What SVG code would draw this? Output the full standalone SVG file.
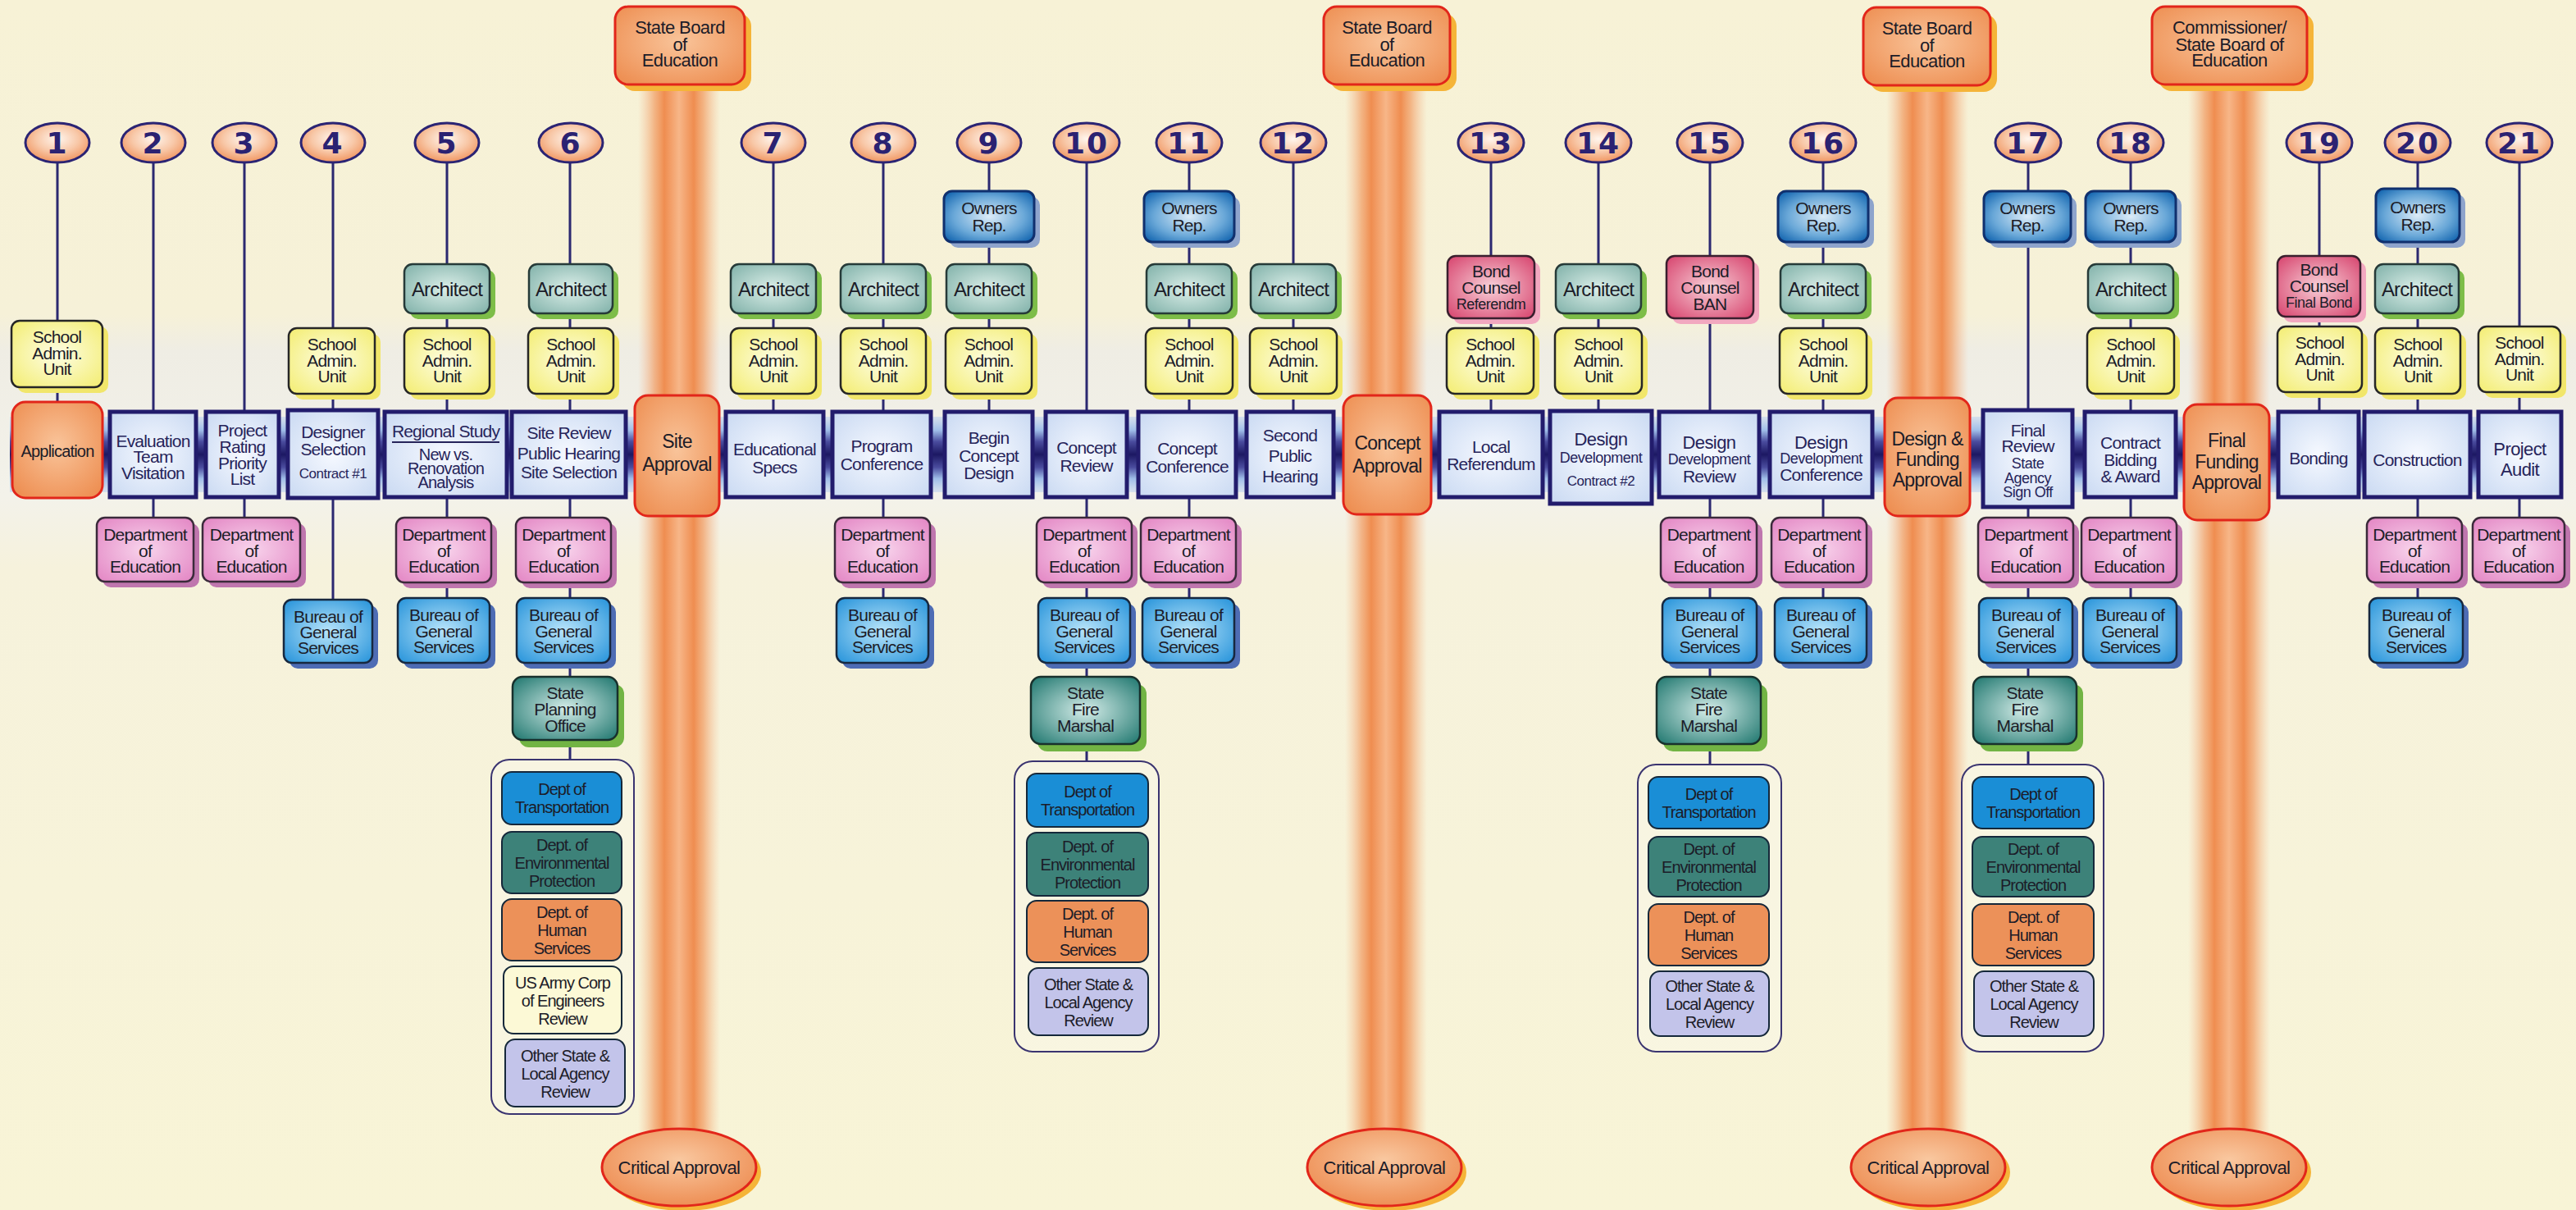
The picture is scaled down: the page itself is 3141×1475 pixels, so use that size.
<svg xmlns="http://www.w3.org/2000/svg" width="3141" height="1475" viewBox="0 0 3141 1475">
<defs>
<linearGradient id="gBg" x1="0" y1="0" x2="0" y2="1">
<stop offset="0" stop-color="#f7f2d6"/><stop offset="0.26" stop-color="#f6f1d8"/><stop offset="0.29" stop-color="#efede4"/><stop offset="0.41" stop-color="#f3f2ea"/><stop offset="0.47" stop-color="#f6f2dc"/><stop offset="1" stop-color="#f8f4d6"/>
</linearGradient>
<linearGradient id="gBand" x1="0" y1="0" x2="0" y2="1">
<stop offset="0" stop-color="#b9cff0" stop-opacity="0.5"/><stop offset="0.18" stop-color="#9fbde8"/><stop offset="0.33" stop-color="#4a4c9e"/><stop offset="0.5" stop-color="#1c1862"/><stop offset="0.67" stop-color="#4a4c9e"/><stop offset="0.82" stop-color="#9fbde8"/><stop offset="1" stop-color="#b9cff0" stop-opacity="0.5"/>
</linearGradient>
<linearGradient id="gBar" x1="0" y1="0" x2="1" y2="0">
<stop offset="0" stop-color="#f4b48a" stop-opacity="0"/><stop offset="0.2" stop-color="#f19a60" stop-opacity="0.7"/><stop offset="0.32" stop-color="#ef8d50"/><stop offset="0.5" stop-color="#f7b688"/><stop offset="0.68" stop-color="#ef8d50"/><stop offset="0.8" stop-color="#f19a60" stop-opacity="0.7"/><stop offset="1" stop-color="#f4b48a" stop-opacity="0"/>
</linearGradient>
<radialGradient id="gCirc" cx="50%" cy="40%" r="60%"><stop offset="0" stop-color="#fff6ee"/><stop offset="0.55" stop-color="#f8c8a8"/><stop offset="1" stop-color="#f09560"/></radialGradient>
<radialGradient id="gYel" cx="50%" cy="50%" r="65%"><stop offset="0" stop-color="#fdfde4"/><stop offset="1" stop-color="#f4ee78"/></radialGradient>
<radialGradient id="gArc" cx="50%" cy="50%" r="65%"><stop offset="0" stop-color="#dcefe9"/><stop offset="1" stop-color="#86b5ad"/></radialGradient>
<radialGradient id="gOwn" cx="50%" cy="50%" r="65%"><stop offset="0" stop-color="#dcecf8"/><stop offset="0.6" stop-color="#6aa8d8"/><stop offset="1" stop-color="#1466b0"/></radialGradient>
<radialGradient id="gBnd" cx="50%" cy="50%" r="65%"><stop offset="0" stop-color="#f8d0d8"/><stop offset="1" stop-color="#d94c74"/></radialGradient>
<radialGradient id="gMain" cx="50%" cy="50%" r="70%"><stop offset="0" stop-color="#f6f9ff"/><stop offset="1" stop-color="#c9d9f2"/></radialGradient>
<radialGradient id="gApr" cx="50%" cy="45%" r="65%"><stop offset="0" stop-color="#f9c49a"/><stop offset="1" stop-color="#ee9054"/></radialGradient>
<radialGradient id="gPnk" cx="50%" cy="50%" r="65%"><stop offset="0" stop-color="#f8d4ec"/><stop offset="1" stop-color="#e48ac6"/></radialGradient>
<radialGradient id="gBlu" cx="50%" cy="50%" r="65%"><stop offset="0" stop-color="#b8e4fa"/><stop offset="1" stop-color="#2f98dc"/></radialGradient>
<radialGradient id="gTea" cx="50%" cy="50%" r="65%"><stop offset="0" stop-color="#d4ece8"/><stop offset="1" stop-color="#2a7e76"/></radialGradient>
<radialGradient id="gCrit" cx="50%" cy="40%" r="60%"><stop offset="0" stop-color="#f9c8a0"/><stop offset="1" stop-color="#ee8f55"/></radialGradient>
<style>
.stem{stroke:#2b2870;stroke-width:3;fill:none}
.t{font-family:"Liberation Sans",Arial,Helvetica,sans-serif;font-size:21px;letter-spacing:-0.8px;fill:#1c1c28;text-anchor:middle}
.tm{fill:#26245a}
.f17{font-size:17px;letter-spacing:-0.5px}
.f18{font-size:18px;letter-spacing:-0.5px}
.f20{font-size:20px}
.f22{font-size:22px;letter-spacing:-0.6px}
.f23{font-size:23px;letter-spacing:-0.8px}
.f24{font-size:24px}
.ci{font-size:20px;letter-spacing:-1px}
.num{font-family:"DejaVu Sans","Liberation Sans",sans-serif;font-weight:bold;font-size:36px;letter-spacing:2px;fill:#2b2272;text-anchor:middle}
.circ{fill:url(#gCirc);stroke:#2b2474;stroke-width:3}
.sau{fill:url(#gYel);stroke:#262626;stroke-width:2.5}
.sauS{fill:#f1e66a}
.arc{fill:url(#gArc);stroke:#263a38;stroke-width:2.5}
.arcS{fill:#7dbd48}
.own{fill:url(#gOwn);stroke:#10306e;stroke-width:3}
.ownS{fill:#8ea4cc}
.bnd{fill:url(#gBnd);stroke:#3a1f2e;stroke-width:2.5}
.bndS{fill:#f2a8c0}
.main{fill:url(#gMain);stroke:#221c6c;stroke-width:5}
.apr{fill:url(#gApr);stroke:#e2261a;stroke-width:3}
.aprS{fill:#f5b438}
.ded{fill:url(#gPnk);stroke:#3a2a3a;stroke-width:2.5}
.dedS{fill:#bf76ae}
.bur{fill:url(#gBlu);stroke:#17283f;stroke-width:2.5}
.burS{fill:#4e6cb4}
.fm{fill:url(#gTea);stroke:#18302c;stroke-width:2.5}
.fmS{fill:#72b444}
.cont{fill:#faf8ea;fill-opacity:0.5;stroke:#3a3470;stroke-width:2}
.dot{fill:#1a8ed6;stroke:#15283a;stroke-width:2}
.env{fill:#3d8279;stroke:#15283a;stroke-width:2}
.dhs{fill:#ec9159;stroke:#15283a;stroke-width:2}
.usa{fill:#fcf9d6;stroke:#15283a;stroke-width:2}
.oth{fill:#c3c4ea;stroke:#15283a;stroke-width:2}
.crit{fill:url(#gCrit);stroke:#e2261a;stroke-width:3}
.ul{stroke:#26245a;stroke-width:2}
</style>
</defs>

<rect x="0" y="0" width="3141" height="1475" fill="url(#gBg)"/>

<g id="approval-bars">
<rect x="778" y="98" width="100" height="1290" fill="url(#gBar)"/>
<rect x="1640" y="98" width="100" height="1290" fill="url(#gBar)"/>
<rect x="2300" y="98" width="100" height="1290" fill="url(#gBar)"/>
<rect x="2668" y="98" width="100" height="1290" fill="url(#gBar)"/>
</g>

<rect id="timeline" x="12" y="508" width="3113" height="92" fill="url(#gBand)"/>

<g id="connectors">
<line class="stem" x1="70" y1="198" x2="70" y2="490"/>
<line class="stem" x1="187" y1="198" x2="187" y2="631"/>
<line class="stem" x1="298" y1="198" x2="298" y2="631"/>
<line class="stem" x1="406" y1="198" x2="406" y2="731"/>
<line class="stem" x1="545" y1="198" x2="545" y2="729"/>
<line class="stem" x1="695" y1="198" x2="695" y2="926"/>
<line class="stem" x1="943" y1="198" x2="943" y2="502"/>
<line class="stem" x1="1077" y1="198" x2="1077" y2="729"/>
<line class="stem" x1="1206" y1="198" x2="1206" y2="502"/>
<line class="stem" x1="1325" y1="198" x2="1325" y2="928"/>
<line class="stem" x1="1450" y1="198" x2="1450" y2="729"/>
<line class="stem" x1="1577" y1="198" x2="1577" y2="502"/>
<line class="stem" x1="1818" y1="198" x2="1818" y2="502"/>
<line class="stem" x1="1949" y1="198" x2="1949" y2="501"/>
<line class="stem" x1="2085" y1="198" x2="2085" y2="932"/>
<line class="stem" x1="2223" y1="198" x2="2223" y2="729"/>
<line class="stem" x1="2473" y1="198" x2="2473" y2="932"/>
<line class="stem" x1="2598" y1="198" x2="2598" y2="729"/>
<line class="stem" x1="2828" y1="198" x2="2828" y2="502"/>
<line class="stem" x1="2948" y1="198" x2="2948" y2="729"/>
<line class="stem" x1="3072" y1="198" x2="3072" y2="631"/>
</g>

<!-- top approval authorities -->
<g id="board1"><rect class="aprS" x="758" y="16" width="158" height="95" rx="16"/><rect class="apr" x="750" y="8" width="158" height="95" rx="16"/><text class="t f22"><tspan x="829" y="41">State Board</tspan><tspan x="829" y="62">of</tspan><tspan x="829" y="81">Education</tspan></text></g>
<g id="board2"><rect class="aprS" x="1622" y="16" width="154" height="95" rx="16"/><rect class="apr" x="1614" y="8" width="154" height="95" rx="16"/><text class="t f22"><tspan x="1691" y="41">State Board</tspan><tspan x="1691" y="62">of</tspan><tspan x="1691" y="81">Education</tspan></text></g>
<g id="board3"><rect class="aprS" x="2280" y="17" width="155" height="95" rx="16"/><rect class="apr" x="2272" y="9" width="155" height="95" rx="16"/><text class="t f22"><tspan x="2349.5" y="42">State Board</tspan><tspan x="2349.5" y="63">of</tspan><tspan x="2349.5" y="82">Education</tspan></text></g>
<g id="board4"><rect class="aprS" x="2632" y="16" width="189" height="95" rx="16"/><rect class="apr" x="2624" y="8" width="189" height="95" rx="16"/><text class="t f22"><tspan x="2718.5" y="41">Commissioner/</tspan><tspan x="2718.5" y="62">State Board of</tspan><tspan x="2718.5" y="81">Education</tspan></text></g>

<!-- critical approval ellipses -->
<g id="critical1"><ellipse cx="834" cy="1429" rx="94" ry="47" class="aprS"/><ellipse class="crit" cx="828" cy="1423" rx="94" ry="47"/><text class="t f22" x="828" y="1431">Critical Approval</text></g>
<g id="critical2"><ellipse cx="1694" cy="1429" rx="94" ry="47" class="aprS"/><ellipse class="crit" cx="1688" cy="1423" rx="94" ry="47"/><text class="t f22" x="1688" y="1431">Critical Approval</text></g>
<g id="critical3"><ellipse cx="2357" cy="1429" rx="94" ry="47" class="aprS"/><ellipse class="crit" cx="2351" cy="1423" rx="94" ry="47"/><text class="t f22" x="2351" y="1431">Critical Approval</text></g>
<g id="critical4"><ellipse cx="2724" cy="1429" rx="94" ry="47" class="aprS"/><ellipse class="crit" cx="2718" cy="1423" rx="94" ry="47"/><text class="t f22" x="2718" y="1431">Critical Approval</text></g>

<!-- step number circles -->
<g id="num1"><ellipse class="circ" cx="70" cy="174" rx="39" ry="24"/><text class="num" x="70" y="187">1</text></g>
<g id="num2"><ellipse class="circ" cx="187" cy="174" rx="39" ry="24"/><text class="num" x="187" y="187">2</text></g>
<g id="num3"><ellipse class="circ" cx="298" cy="174" rx="39" ry="24"/><text class="num" x="298" y="187">3</text></g>
<g id="num4"><ellipse class="circ" cx="406" cy="174" rx="39" ry="24"/><text class="num" x="406" y="187">4</text></g>
<g id="num5"><ellipse class="circ" cx="545" cy="174" rx="39" ry="24"/><text class="num" x="545" y="187">5</text></g>
<g id="num6"><ellipse class="circ" cx="696" cy="174" rx="39" ry="24"/><text class="num" x="696" y="187">6</text></g>
<g id="num7"><ellipse class="circ" cx="943" cy="174" rx="39" ry="24"/><text class="num" x="943" y="187">7</text></g>
<g id="num8"><ellipse class="circ" cx="1077" cy="174" rx="39" ry="24"/><text class="num" x="1077" y="187">8</text></g>
<g id="num9"><ellipse class="circ" cx="1206" cy="174" rx="39" ry="24"/><text class="num" x="1206" y="187">9</text></g>
<g id="num10"><ellipse class="circ" cx="1325" cy="174" rx="40" ry="24"/><text class="num" x="1325" y="187">10</text></g>
<g id="num11"><ellipse class="circ" cx="1450" cy="174" rx="40" ry="24"/><text class="num" x="1450" y="187">11</text></g>
<g id="num12"><ellipse class="circ" cx="1577" cy="174" rx="40" ry="24"/><text class="num" x="1577" y="187">12</text></g>
<g id="num13"><ellipse class="circ" cx="1818" cy="174" rx="40" ry="24"/><text class="num" x="1818" y="187">13</text></g>
<g id="num14"><ellipse class="circ" cx="1949" cy="174" rx="40" ry="24"/><text class="num" x="1949" y="187">14</text></g>
<g id="num15"><ellipse class="circ" cx="2085" cy="174" rx="40" ry="24"/><text class="num" x="2085" y="187">15</text></g>
<g id="num16"><ellipse class="circ" cx="2223" cy="174" rx="40" ry="24"/><text class="num" x="2223" y="187">16</text></g>
<g id="num17"><ellipse class="circ" cx="2473" cy="174" rx="40" ry="24"/><text class="num" x="2473" y="187">17</text></g>
<g id="num18"><ellipse class="circ" cx="2598" cy="174" rx="40" ry="24"/><text class="num" x="2598" y="187">18</text></g>
<g id="num19"><ellipse class="circ" cx="2828" cy="174" rx="40" ry="24"/><text class="num" x="2828" y="187">19</text></g>
<g id="num20"><ellipse class="circ" cx="2948" cy="174" rx="40" ry="24"/><text class="num" x="2948" y="187">20</text></g>
<g id="num21"><ellipse class="circ" cx="3072" cy="174" rx="40" ry="24"/><text class="num" x="3072" y="187">21</text></g>

<!-- Owners Rep -->
<g id="own9"><rect class="ownS" x="1158" y="240" width="110" height="62" rx="10"/><rect class="own" x="1151" y="233" width="110" height="62" rx="10"/><text class="t"><tspan x="1206" y="261">Owners</tspan><tspan x="1206" y="282">Rep.</tspan></text></g>
<g id="own11"><rect class="ownS" x="1402" y="240" width="110" height="62" rx="10"/><rect class="own" x="1395" y="233" width="110" height="62" rx="10"/><text class="t"><tspan x="1450" y="261">Owners</tspan><tspan x="1450" y="282">Rep.</tspan></text></g>
<g id="own16"><rect class="ownS" x="2175" y="240" width="110" height="62" rx="10"/><rect class="own" x="2168" y="233" width="110" height="62" rx="10"/><text class="t"><tspan x="2223" y="261">Owners</tspan><tspan x="2223" y="282">Rep.</tspan></text></g>
<g id="own17"><rect class="ownS" x="2426" y="240" width="106" height="62" rx="10"/><rect class="own" x="2419" y="233" width="106" height="62" rx="10"/><text class="t"><tspan x="2472" y="261">Owners</tspan><tspan x="2472" y="282">Rep.</tspan></text></g>
<g id="own18"><rect class="ownS" x="2550" y="240" width="110" height="62" rx="10"/><rect class="own" x="2543" y="233" width="110" height="62" rx="10"/><text class="t"><tspan x="2598" y="261">Owners</tspan><tspan x="2598" y="282">Rep.</tspan></text></g>
<g id="own20"><rect class="ownS" x="2904" y="237" width="102" height="65" rx="10"/><rect class="own" x="2897" y="230" width="102" height="65" rx="10"/><text class="t"><tspan x="2948" y="260">Owners</tspan><tspan x="2948" y="281">Rep.</tspan></text></g>

<!-- Architect -->
<g id="arc5"><rect class="arcS" x="500" y="329" width="104" height="60" rx="10"/><rect class="arc" x="493" y="322" width="104" height="60" rx="10"/><text class="t f24" x="545" y="361">Architect</text></g>
<g id="arc6"><rect class="arcS" x="652" y="329" width="102" height="60" rx="10"/><rect class="arc" x="645" y="322" width="102" height="60" rx="10"/><text class="t f24" x="696" y="361">Architect</text></g>
<g id="arc7"><rect class="arcS" x="898" y="329" width="104" height="60" rx="10"/><rect class="arc" x="891" y="322" width="104" height="60" rx="10"/><text class="t f24" x="943" y="361">Architect</text></g>
<g id="arc8"><rect class="arcS" x="1032" y="329" width="104" height="60" rx="10"/><rect class="arc" x="1025" y="322" width="104" height="60" rx="10"/><text class="t f24" x="1077" y="361">Architect</text></g>
<g id="arc9"><rect class="arcS" x="1161" y="329" width="104" height="60" rx="10"/><rect class="arc" x="1154" y="322" width="104" height="60" rx="10"/><text class="t f24" x="1206" y="361">Architect</text></g>
<g id="arc11"><rect class="arcS" x="1405" y="329" width="104" height="60" rx="10"/><rect class="arc" x="1398" y="322" width="104" height="60" rx="10"/><text class="t f24" x="1450" y="361">Architect</text></g>
<g id="arc12"><rect class="arcS" x="1532" y="329" width="104" height="60" rx="10"/><rect class="arc" x="1525" y="322" width="104" height="60" rx="10"/><text class="t f24" x="1577" y="361">Architect</text></g>
<g id="arc14"><rect class="arcS" x="1904" y="329" width="104" height="60" rx="10"/><rect class="arc" x="1897" y="322" width="104" height="60" rx="10"/><text class="t f24" x="1949" y="361">Architect</text></g>
<g id="arc16"><rect class="arcS" x="2178" y="329" width="104" height="60" rx="10"/><rect class="arc" x="2171" y="322" width="104" height="60" rx="10"/><text class="t f24" x="2223" y="361">Architect</text></g>
<g id="arc18"><rect class="arcS" x="2553" y="329" width="104" height="60" rx="10"/><rect class="arc" x="2546" y="322" width="104" height="60" rx="10"/><text class="t f24" x="2598" y="361">Architect</text></g>
<g id="arc20"><rect class="arcS" x="2903" y="329" width="102" height="60" rx="10"/><rect class="arc" x="2896" y="322" width="102" height="60" rx="10"/><text class="t f24" x="2947" y="361">Architect</text></g>

<!-- Bond Counsel -->
<g id="bond13"><rect class="bndS" x="1772" y="319" width="106" height="76" rx="10"/><rect class="bnd" x="1765" y="312" width="106" height="76" rx="10"/><text class="t"><tspan x="1818" y="338">Bond</tspan><tspan x="1818" y="358">Counsel</tspan><tspan class="f18" x="1818" y="377">Referendm</tspan></text></g>
<g id="bond15"><rect class="bndS" x="2039" y="319" width="106" height="76" rx="10"/><rect class="bnd" x="2032" y="312" width="106" height="76" rx="10"/><text class="t"><tspan x="2085" y="338">Bond</tspan><tspan x="2085" y="358">Counsel</tspan><tspan x="2085" y="378">BAN</tspan></text></g>
<g id="bond19"><rect class="bndS" x="2784" y="319" width="101" height="74" rx="10"/><rect class="bnd" x="2777" y="312" width="101" height="74" rx="10"/><text class="t"><tspan x="2827.5" y="336">Bond</tspan><tspan x="2827.5" y="356">Counsel</tspan><tspan class="f18" x="2827.5" y="375">Final Bond</tspan></text></g>

<!-- School Admin. Unit -->
<g id="sau1"><rect class="sauS" x="21" y="398" width="111" height="81" rx="10"/><rect class="sau" x="14" y="391" width="111" height="81" rx="10"/><text class="t"><tspan x="69.5" y="418">School</tspan><tspan x="69.5" y="438">Admin.</tspan><tspan x="69.5" y="457">Unit</tspan></text></g>
<g id="sau4"><rect class="sauS" x="359" y="407" width="105" height="80" rx="10"/><rect class="sau" x="352" y="400" width="105" height="80" rx="10"/><text class="t"><tspan x="404.5" y="427">School</tspan><tspan x="404.5" y="447">Admin.</tspan><tspan x="404.5" y="466">Unit</tspan></text></g>
<g id="sau5"><rect class="sauS" x="500" y="407" width="104" height="80" rx="10"/><rect class="sau" x="493" y="400" width="104" height="80" rx="10"/><text class="t"><tspan x="545" y="427">School</tspan><tspan x="545" y="447">Admin.</tspan><tspan x="545" y="466">Unit</tspan></text></g>
<g id="sau6"><rect class="sauS" x="651" y="407" width="104" height="80" rx="10"/><rect class="sau" x="644" y="400" width="104" height="80" rx="10"/><text class="t"><tspan x="696" y="427">School</tspan><tspan x="696" y="447">Admin.</tspan><tspan x="696" y="466">Unit</tspan></text></g>
<g id="sau7"><rect class="sauS" x="898" y="407" width="104" height="80" rx="10"/><rect class="sau" x="891" y="400" width="104" height="80" rx="10"/><text class="t"><tspan x="943" y="427">School</tspan><tspan x="943" y="447">Admin.</tspan><tspan x="943" y="466">Unit</tspan></text></g>
<g id="sau8"><rect class="sauS" x="1032" y="407" width="104" height="80" rx="10"/><rect class="sau" x="1025" y="400" width="104" height="80" rx="10"/><text class="t"><tspan x="1077" y="427">School</tspan><tspan x="1077" y="447">Admin.</tspan><tspan x="1077" y="466">Unit</tspan></text></g>
<g id="sau9"><rect class="sauS" x="1160" y="407" width="105" height="80" rx="10"/><rect class="sau" x="1153" y="400" width="105" height="80" rx="10"/><text class="t"><tspan x="1205.5" y="427">School</tspan><tspan x="1205.5" y="447">Admin.</tspan><tspan x="1205.5" y="466">Unit</tspan></text></g>
<g id="sau11"><rect class="sauS" x="1404" y="407" width="106" height="80" rx="10"/><rect class="sau" x="1397" y="400" width="106" height="80" rx="10"/><text class="t"><tspan x="1450" y="427">School</tspan><tspan x="1450" y="447">Admin.</tspan><tspan x="1450" y="466">Unit</tspan></text></g>
<g id="sau12"><rect class="sauS" x="1531" y="407" width="106" height="80" rx="10"/><rect class="sau" x="1524" y="400" width="106" height="80" rx="10"/><text class="t"><tspan x="1577" y="427">School</tspan><tspan x="1577" y="447">Admin.</tspan><tspan x="1577" y="466">Unit</tspan></text></g>
<g id="sau13"><rect class="sauS" x="1771" y="407" width="106" height="80" rx="10"/><rect class="sau" x="1764" y="400" width="106" height="80" rx="10"/><text class="t"><tspan x="1817" y="427">School</tspan><tspan x="1817" y="447">Admin.</tspan><tspan x="1817" y="466">Unit</tspan></text></g>
<g id="sau14"><rect class="sauS" x="1903" y="407" width="106" height="80" rx="10"/><rect class="sau" x="1896" y="400" width="106" height="80" rx="10"/><text class="t"><tspan x="1949" y="427">School</tspan><tspan x="1949" y="447">Admin.</tspan><tspan x="1949" y="466">Unit</tspan></text></g>
<g id="sau16"><rect class="sauS" x="2177" y="407" width="106" height="80" rx="10"/><rect class="sau" x="2170" y="400" width="106" height="80" rx="10"/><text class="t"><tspan x="2223" y="427">School</tspan><tspan x="2223" y="447">Admin.</tspan><tspan x="2223" y="466">Unit</tspan></text></g>
<g id="sau18"><rect class="sauS" x="2552" y="407" width="106" height="80" rx="10"/><rect class="sau" x="2545" y="400" width="106" height="80" rx="10"/><text class="t"><tspan x="2598" y="427">School</tspan><tspan x="2598" y="447">Admin.</tspan><tspan x="2598" y="466">Unit</tspan></text></g>
<g id="sau19"><rect class="sauS" x="2784" y="405" width="103" height="80" rx="10"/><rect class="sau" x="2777" y="398" width="103" height="80" rx="10"/><text class="t"><tspan x="2828.5" y="425">School</tspan><tspan x="2828.5" y="445">Admin.</tspan><tspan x="2828.5" y="464">Unit</tspan></text></g>
<g id="sau20"><rect class="sauS" x="2903" y="407" width="104" height="80" rx="10"/><rect class="sau" x="2896" y="400" width="104" height="80" rx="10"/><text class="t"><tspan x="2948" y="427">School</tspan><tspan x="2948" y="447">Admin.</tspan><tspan x="2948" y="466">Unit</tspan></text></g>
<g id="sau21"><rect class="sauS" x="3029" y="405" width="100" height="80" rx="10"/><rect class="sau" x="3022" y="398" width="100" height="80" rx="10"/><text class="t"><tspan x="3072" y="425">School</tspan><tspan x="3072" y="445">Admin.</tspan><tspan x="3072" y="464">Unit</tspan></text></g>

<!-- main timeline steps -->
<g id="step1"><rect class="apr" x="15" y="490" width="110" height="117" rx="16"/><text class="t f20" x="70" y="557">Application</text></g>
<g id="step2"><rect class="main" x="134" y="502" width="105" height="104"/><text class="t tm"><tspan x="186.5" y="545">Evaluation</tspan><tspan x="186.5" y="564">Team</tspan><tspan x="186.5" y="584">Visitation</tspan></text></g>
<g id="step3"><rect class="main" x="251" y="502" width="89" height="104"/><text class="t tm"><tspan x="295.5" y="532">Project</tspan><tspan x="295.5" y="552">Rating</tspan><tspan x="295.5" y="572">Priority</tspan><tspan x="295.5" y="591">List</tspan></text></g>
<g id="step4"><rect class="main" x="351" y="500" width="110" height="107"/><text class="t tm"><tspan x="406" y="534">Designer</tspan><tspan x="406" y="555">Selection</tspan><tspan class="f17" x="406" y="583">Contract #1</tspan></text></g>
<g id="step5"><rect class="main" x="469" y="502" width="149" height="104"/><text class="t tm"><tspan x="543.5" y="533">Regional Study</tspan><tspan class="f20" x="543.5" y="561">New vs.</tspan><tspan class="f20" x="543.5" y="578">Renovation</tspan><tspan class="f20" x="543.5" y="595">Analysis</tspan></text><line class="ul" x1="478" y1="539" x2="609" y2="539"/></g>
<g id="step6"><rect class="main" x="624" y="502" width="139" height="104"/><text class="t tm"><tspan x="693.5" y="535">Site Review</tspan><tspan x="693.5" y="560">Public Hearing</tspan><tspan x="693.5" y="583">Site Selection</tspan></text></g>
<g id="site-approval"><rect class="apr" x="774" y="482" width="103" height="147" rx="16"/><text class="t f23"><tspan x="825.5" y="546">Site</tspan><tspan x="825.5" y="574">Approval</tspan></text></g>
<g id="step7"><rect class="main" x="885" y="502" width="119" height="104"/><text class="t tm"><tspan x="944.5" y="555">Educational</tspan><tspan x="944.5" y="577">Specs</tspan></text></g>
<g id="step8"><rect class="main" x="1015" y="502" width="120" height="104"/><text class="t tm"><tspan x="1075" y="551">Program</tspan><tspan x="1075" y="573">Conference</tspan></text></g>
<g id="step9"><rect class="main" x="1152" y="502" width="107" height="104"/><text class="t tm"><tspan x="1205.5" y="541">Begin</tspan><tspan x="1205.5" y="563">Concept</tspan><tspan x="1205.5" y="584">Design</tspan></text></g>
<g id="step10"><rect class="main" x="1275" y="502" width="99" height="104"/><text class="t tm"><tspan x="1324.5" y="553">Concept</tspan><tspan x="1324.5" y="575">Review</tspan></text></g>
<g id="step11"><rect class="main" x="1388" y="502" width="119" height="104"/><text class="t tm"><tspan x="1447.5" y="554">Concept</tspan><tspan x="1447.5" y="576">Conference</tspan></text></g>
<g id="step12"><rect class="main" x="1520" y="502" width="106" height="104"/><text class="t tm"><tspan x="1573" y="538">Second</tspan><tspan x="1573" y="563">Public</tspan><tspan x="1573" y="588">Hearing</tspan></text></g>
<g id="concept-approval"><rect class="apr" x="1638" y="482" width="107" height="145" rx="16"/><text class="t f23"><tspan x="1691.5" y="548">Concept</tspan><tspan x="1691.5" y="576">Approval</tspan></text></g>
<g id="step13"><rect class="main" x="1755" y="502" width="126" height="104"/><text class="t tm"><tspan x="1818" y="552">Local</tspan><tspan x="1818" y="573">Referendum</tspan></text></g>
<g id="step14"><rect class="main" x="1890" y="501" width="124" height="113"/><text class="t tm"><tspan class="f22" x="1952" y="543">Design</tspan><tspan class="f18" x="1952" y="564">Development</tspan><tspan class="f17" x="1952" y="592">Contract  #2</tspan></text></g>
<g id="step15"><rect class="main" x="2023" y="502" width="122" height="104"/><text class="t tm"><tspan class="f22" x="2084" y="547">Design</tspan><tspan class="f18" x="2084" y="566">Development</tspan><tspan x="2084" y="588">Review</tspan></text></g>
<g id="step16"><rect class="main" x="2158" y="502" width="125" height="104"/><text class="t tm"><tspan class="f22" x="2220.5" y="547">Design</tspan><tspan class="f18" x="2220.5" y="565">Development</tspan><tspan x="2220.5" y="586">Conference</tspan></text></g>
<g id="design-funding-approval"><rect class="apr" x="2298" y="485" width="104" height="144" rx="16"/><text class="t f23"><tspan x="2350" y="543">Design &amp;</tspan><tspan x="2350" y="568">Funding</tspan><tspan x="2350" y="593">Approval</tspan></text></g>
<g id="step17"><rect class="main" x="2418" y="500" width="109" height="118"/><text class="t tm"><tspan x="2472.5" y="532">Final</tspan><tspan x="2472.5" y="551">Review</tspan><tspan class="f18" x="2472.5" y="571">State</tspan><tspan class="f18" x="2472.5" y="589">Agency</tspan><tspan class="f18" x="2472.5" y="606">Sign Off</tspan></text></g>
<g id="step18"><rect class="main" x="2542" y="502" width="111" height="104"/><text class="t tm"><tspan x="2597.5" y="547">Contract</tspan><tspan x="2597.5" y="568">Bidding</tspan><tspan x="2597.5" y="588">&amp; Award</tspan></text></g>
<g id="final-funding-approval"><rect class="apr" x="2663" y="493" width="104" height="141" rx="16"/><text class="t f23"><tspan x="2715" y="545">Final</tspan><tspan x="2715" y="571">Funding</tspan><tspan x="2715" y="596">Approval</tspan></text></g>
<g id="step19"><rect class="main" x="2778" y="502" width="98" height="104"/><text class="t tm" x="2827" y="566">Bonding</text></g>
<g id="step20"><rect class="main" x="2883" y="502" width="129" height="104"/><text class="t tm" x="2947.5" y="568">Construction</text></g>
<g id="step21"><rect class="main" x="3022" y="502" width="101" height="104"/><text class="t tm f22"><tspan x="3072.5" y="555">Project</tspan><tspan x="3072.5" y="580">Audit</tspan></text></g>

<!-- Department of Education -->
<g id="ded2"><rect class="dedS" x="125" y="638" width="118" height="78" rx="10"/><rect class="ded" x="118" y="631" width="118" height="78" rx="10"/><text class="t"><tspan x="177" y="659">Department</tspan><tspan x="177" y="679">of</tspan><tspan x="177" y="698">Education</tspan></text></g>
<g id="ded3"><rect class="dedS" x="254" y="638" width="119" height="78" rx="10"/><rect class="ded" x="247" y="631" width="119" height="78" rx="10"/><text class="t"><tspan x="306.5" y="659">Department</tspan><tspan x="306.5" y="679">of</tspan><tspan x="306.5" y="698">Education</tspan></text></g>
<g id="ded5"><rect class="dedS" x="490" y="638" width="116" height="79" rx="10"/><rect class="ded" x="483" y="631" width="116" height="79" rx="10"/><text class="t"><tspan x="541" y="659">Department</tspan><tspan x="541" y="679">of</tspan><tspan x="541" y="698">Education</tspan></text></g>
<g id="ded6"><rect class="dedS" x="636" y="638" width="116" height="79" rx="10"/><rect class="ded" x="629" y="631" width="116" height="79" rx="10"/><text class="t"><tspan x="687" y="659">Department</tspan><tspan x="687" y="679">of</tspan><tspan x="687" y="698">Education</tspan></text></g>
<g id="ded8"><rect class="dedS" x="1025" y="638" width="116" height="79" rx="10"/><rect class="ded" x="1018" y="631" width="116" height="79" rx="10"/><text class="t"><tspan x="1076" y="659">Department</tspan><tspan x="1076" y="679">of</tspan><tspan x="1076" y="698">Education</tspan></text></g>
<g id="ded10"><rect class="dedS" x="1271" y="638" width="116" height="79" rx="10"/><rect class="ded" x="1264" y="631" width="116" height="79" rx="10"/><text class="t"><tspan x="1322" y="659">Department</tspan><tspan x="1322" y="679">of</tspan><tspan x="1322" y="698">Education</tspan></text></g>
<g id="ded11"><rect class="dedS" x="1398" y="638" width="116" height="79" rx="10"/><rect class="ded" x="1391" y="631" width="116" height="79" rx="10"/><text class="t"><tspan x="1449" y="659">Department</tspan><tspan x="1449" y="679">of</tspan><tspan x="1449" y="698">Education</tspan></text></g>
<g id="ded15"><rect class="dedS" x="2032" y="638" width="117" height="79" rx="10"/><rect class="ded" x="2025" y="631" width="117" height="79" rx="10"/><text class="t"><tspan x="2083.5" y="659">Department</tspan><tspan x="2083.5" y="679">of</tspan><tspan x="2083.5" y="698">Education</tspan></text></g>
<g id="ded16"><rect class="dedS" x="2167" y="638" width="116" height="79" rx="10"/><rect class="ded" x="2160" y="631" width="116" height="79" rx="10"/><text class="t"><tspan x="2218" y="659">Department</tspan><tspan x="2218" y="679">of</tspan><tspan x="2218" y="698">Education</tspan></text></g>
<g id="ded17"><rect class="dedS" x="2419" y="638" width="116" height="79" rx="10"/><rect class="ded" x="2412" y="631" width="116" height="79" rx="10"/><text class="t"><tspan x="2470" y="659">Department</tspan><tspan x="2470" y="679">of</tspan><tspan x="2470" y="698">Education</tspan></text></g>
<g id="ded18"><rect class="dedS" x="2545" y="638" width="116" height="79" rx="10"/><rect class="ded" x="2538" y="631" width="116" height="79" rx="10"/><text class="t"><tspan x="2596" y="659">Department</tspan><tspan x="2596" y="679">of</tspan><tspan x="2596" y="698">Education</tspan></text></g>
<g id="ded20"><rect class="dedS" x="2893" y="638" width="116" height="79" rx="10"/><rect class="ded" x="2886" y="631" width="116" height="79" rx="10"/><text class="t"><tspan x="2944" y="659">Department</tspan><tspan x="2944" y="679">of</tspan><tspan x="2944" y="698">Education</tspan></text></g>
<g id="ded21"><rect class="dedS" x="3022" y="638" width="112" height="79" rx="10"/><rect class="ded" x="3015" y="631" width="112" height="79" rx="10"/><text class="t"><tspan x="3071" y="659">Department</tspan><tspan x="3071" y="679">of</tspan><tspan x="3071" y="698">Education</tspan></text></g>

<!-- Bureau of General Services -->
<g id="bur4"><rect class="burS" x="353" y="738" width="108" height="77" rx="10"/><rect class="bur" x="346" y="731" width="108" height="77" rx="10"/><text class="t"><tspan x="400" y="759">Bureau of</tspan><tspan x="400" y="778">General</tspan><tspan x="400" y="797">Services</tspan></text></g>
<g id="bur5"><rect class="burS" x="492" y="736" width="112" height="79" rx="10"/><rect class="bur" x="485" y="729" width="112" height="79" rx="10"/><text class="t"><tspan x="541" y="757">Bureau of</tspan><tspan x="541" y="777">General</tspan><tspan x="541" y="796">Services</tspan></text></g>
<g id="bur6"><rect class="burS" x="637" y="736" width="114" height="79" rx="10"/><rect class="bur" x="630" y="729" width="114" height="79" rx="10"/><text class="t"><tspan x="687" y="757">Bureau of</tspan><tspan x="687" y="777">General</tspan><tspan x="687" y="796">Services</tspan></text></g>
<g id="bur8"><rect class="burS" x="1027" y="736" width="112" height="79" rx="10"/><rect class="bur" x="1020" y="729" width="112" height="79" rx="10"/><text class="t"><tspan x="1076" y="757">Bureau of</tspan><tspan x="1076" y="777">General</tspan><tspan x="1076" y="796">Services</tspan></text></g>
<g id="bur10"><rect class="burS" x="1273" y="736" width="112" height="79" rx="10"/><rect class="bur" x="1266" y="729" width="112" height="79" rx="10"/><text class="t"><tspan x="1322" y="757">Bureau of</tspan><tspan x="1322" y="777">General</tspan><tspan x="1322" y="796">Services</tspan></text></g>
<g id="bur11"><rect class="burS" x="1400" y="736" width="112" height="79" rx="10"/><rect class="bur" x="1393" y="729" width="112" height="79" rx="10"/><text class="t"><tspan x="1449" y="757">Bureau of</tspan><tspan x="1449" y="777">General</tspan><tspan x="1449" y="796">Services</tspan></text></g>
<g id="bur15"><rect class="burS" x="2034" y="736" width="115" height="79" rx="10"/><rect class="bur" x="2027" y="729" width="115" height="79" rx="10"/><text class="t"><tspan x="2084.5" y="757">Bureau of</tspan><tspan x="2084.5" y="777">General</tspan><tspan x="2084.5" y="796">Services</tspan></text></g>
<g id="bur16"><rect class="burS" x="2171" y="736" width="112" height="79" rx="10"/><rect class="bur" x="2164" y="729" width="112" height="79" rx="10"/><text class="t"><tspan x="2220" y="757">Bureau of</tspan><tspan x="2220" y="777">General</tspan><tspan x="2220" y="796">Services</tspan></text></g>
<g id="bur17"><rect class="burS" x="2420" y="736" width="114" height="79" rx="10"/><rect class="bur" x="2413" y="729" width="114" height="79" rx="10"/><text class="t"><tspan x="2470" y="757">Bureau of</tspan><tspan x="2470" y="777">General</tspan><tspan x="2470" y="796">Services</tspan></text></g>
<g id="bur18"><rect class="burS" x="2547" y="736" width="114" height="79" rx="10"/><rect class="bur" x="2540" y="729" width="114" height="79" rx="10"/><text class="t"><tspan x="2597" y="757">Bureau of</tspan><tspan x="2597" y="777">General</tspan><tspan x="2597" y="796">Services</tspan></text></g>
<g id="bur20"><rect class="burS" x="2896" y="736" width="114" height="79" rx="10"/><rect class="bur" x="2889" y="729" width="114" height="79" rx="10"/><text class="t"><tspan x="2946" y="757">Bureau of</tspan><tspan x="2946" y="777">General</tspan><tspan x="2946" y="796">Services</tspan></text></g>

<!-- State Planning Office / State Fire Marshal -->
<g id="planning6"><rect class="fmS" x="633" y="834" width="128" height="77" rx="12"/><rect class="fm" x="625" y="825" width="128" height="77" rx="12"/><text class="t"><tspan x="689" y="852">State</tspan><tspan x="689" y="872">Planning</tspan><tspan x="689" y="892">Office</tspan></text></g>
<g id="marshal10"><rect class="fmS" x="1265" y="834" width="133" height="82" rx="12"/><rect class="fm" x="1257" y="825" width="133" height="82" rx="12"/><text class="t"><tspan x="1323.5" y="852">State</tspan><tspan x="1323.5" y="872">Fire</tspan><tspan x="1323.5" y="892">Marshal</tspan></text></g>
<g id="marshal15"><rect class="fmS" x="2028" y="834" width="127" height="82" rx="12"/><rect class="fm" x="2020" y="825" width="127" height="82" rx="12"/><text class="t"><tspan x="2083.5" y="852">State</tspan><tspan x="2083.5" y="872">Fire</tspan><tspan x="2083.5" y="892">Marshal</tspan></text></g>
<g id="marshal17"><rect class="fmS" x="2414" y="834" width="126" height="82" rx="12"/><rect class="fm" x="2406" y="825" width="126" height="82" rx="12"/><text class="t"><tspan x="2469" y="852">State</tspan><tspan x="2469" y="872">Fire</tspan><tspan x="2469" y="892">Marshal</tspan></text></g>

<!-- agency review groups -->
<g id="agencies6">
<rect class="cont" x="599" y="926" width="174" height="432" rx="22"/>
<rect class="dot" x="612" y="941" width="146" height="64" rx="12"/><text class="t ci"><tspan x="685" y="969">Dept of</tspan><tspan x="685" y="991">Transportation</tspan></text>
<rect class="env" x="612" y="1014" width="146" height="75" rx="12"/><text class="t ci"><tspan x="685" y="1037">Dept. of</tspan><tspan x="685" y="1059">Environmental</tspan><tspan x="685" y="1081">Protection</tspan></text>
<rect class="dhs" x="612" y="1096" width="146" height="75" rx="12"/><text class="t ci"><tspan x="685" y="1119">Dept. of</tspan><tspan x="685" y="1141">Human</tspan><tspan x="685" y="1163">Services</tspan></text>
<rect class="usa" x="614" y="1178" width="144" height="82" rx="12"/><text class="t ci"><tspan x="686" y="1205">US Army Corp</tspan><tspan x="686" y="1227">of Engineers</tspan><tspan x="686" y="1249">Review</tspan></text>
<rect class="oth" x="616" y="1267" width="146" height="82" rx="12"/><text class="t ci"><tspan x="689" y="1294">Other State &amp;</tspan><tspan x="689" y="1316">Local Agency</tspan><tspan x="689" y="1338">Review</tspan></text>
</g>
<g id="agencies10">
<rect class="cont" x="1237" y="928" width="176" height="354" rx="22"/>
<rect class="dot" x="1252" y="943" width="148" height="65" rx="12"/><text class="t ci"><tspan x="1326" y="972">Dept of</tspan><tspan x="1326" y="994">Transportation</tspan></text>
<rect class="env" x="1252" y="1015" width="148" height="77" rx="12"/><text class="t ci"><tspan x="1326" y="1039">Dept. of</tspan><tspan x="1326" y="1061">Environmental</tspan><tspan x="1326" y="1083">Protection</tspan></text>
<rect class="dhs" x="1252" y="1098" width="148" height="75" rx="12"/><text class="t ci"><tspan x="1326" y="1121">Dept. of</tspan><tspan x="1326" y="1143">Human</tspan><tspan x="1326" y="1165">Services</tspan></text>
<rect class="oth" x="1254" y="1180" width="146" height="82" rx="12"/><text class="t ci"><tspan x="1327" y="1207">Other State &amp;</tspan><tspan x="1327" y="1229">Local Agency</tspan><tspan x="1327" y="1251">Review</tspan></text>
</g>
<g id="agencies15">
<rect class="cont" x="1997" y="932" width="175" height="350" rx="22"/>
<rect class="dot" x="2010" y="947" width="147" height="63" rx="12"/><text class="t ci"><tspan x="2083.5" y="975">Dept of</tspan><tspan x="2083.5" y="997">Transportation</tspan></text>
<rect class="env" x="2010" y="1020" width="147" height="73" rx="12"/><text class="t ci"><tspan x="2083.5" y="1042">Dept. of</tspan><tspan x="2083.5" y="1064">Environmental</tspan><tspan x="2083.5" y="1086">Protection</tspan></text>
<rect class="dhs" x="2010" y="1102" width="147" height="75" rx="12"/><text class="t ci"><tspan x="2083.5" y="1125">Dept. of</tspan><tspan x="2083.5" y="1147">Human</tspan><tspan x="2083.5" y="1169">Services</tspan></text>
<rect class="oth" x="2012" y="1184" width="145" height="79" rx="12"/><text class="t ci"><tspan x="2084.5" y="1209">Other State &amp;</tspan><tspan x="2084.5" y="1231">Local Agency</tspan><tspan x="2084.5" y="1253">Review</tspan></text>
</g>
<g id="agencies17">
<rect class="cont" x="2392" y="932" width="173" height="350" rx="22"/>
<rect class="dot" x="2405" y="947" width="148" height="63" rx="12"/><text class="t ci"><tspan x="2479" y="975">Dept of</tspan><tspan x="2479" y="997">Transportation</tspan></text>
<rect class="env" x="2405" y="1020" width="148" height="73" rx="12"/><text class="t ci"><tspan x="2479" y="1042">Dept. of</tspan><tspan x="2479" y="1064">Environmental</tspan><tspan x="2479" y="1086">Protection</tspan></text>
<rect class="dhs" x="2405" y="1102" width="148" height="75" rx="12"/><text class="t ci"><tspan x="2479" y="1125">Dept. of</tspan><tspan x="2479" y="1147">Human</tspan><tspan x="2479" y="1169">Services</tspan></text>
<rect class="oth" x="2407" y="1184" width="146" height="79" rx="12"/><text class="t ci"><tspan x="2480" y="1209">Other State &amp;</tspan><tspan x="2480" y="1231">Local Agency</tspan><tspan x="2480" y="1253">Review</tspan></text>
</g>
</svg>
